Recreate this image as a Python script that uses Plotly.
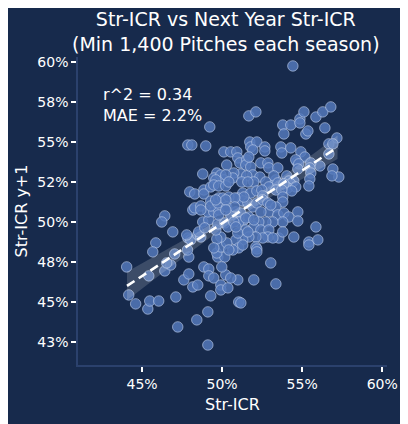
import numpy as np
import plotly.graph_objects as go

# Str-ICR in season N (x) and season N+1 (y), in percent
str_icr = [
    54.42, 49.23, 47.86, 48.11, 48.98, 51.67, 52.11, 53.79, 54.29, 53.86,
    54.86, 54.86, 55.11, 55.86, 56.29, 56.79, 56.42, 55.23, 55.36, 57.17,
    56.67, 56.92, 51.73, 51.79, 52.17, 52.67, 52.67, 51.92, 53.67, 54.29,
    53.73, 54.92, 55.17, 50.11, 50.54, 50.92, 54.67, 56.11, 56.67, 55.54,
    55.48, 56.92, 57.29, 56.86, 50.98, 51.11, 51.54, 51.48, 51.79, 50.29,
    52.42, 52.86, 52.92, 53.48, 51.92, 52.36, 51.17, 51.54, 50.73, 50.67,
    48.79, 49.67, 49.48, 49.92, 50.11, 54.04, 54.17, 54.48, 55.54, 55.48,
    51.98, 53.36, 53.17, 54.60, 54.79, 54.73, 53.23, 52.73, 52.92, 53.48,
    54.29, 54.10, 54.60, 54.35, 53.86, 55.42, 51.23, 51.61, 51.29, 51.79,
    52.17, 52.48, 52.54, 53.36, 53.73, 53.79, 53.79, 50.98, 51.29, 51.61,
    51.92, 52.17, 52.54, 52.86, 52.92, 53.36, 53.48, 53.86, 54.17, 54.73,
    54.73, 53.79, 53.17, 52.73, 55.86, 54.48, 55.42, 55.98, 50.86, 51.17,
    51.36, 51.04, 51.67, 52.29, 51.98, 51.48, 52.42, 52.92, 52.86, 53.54,
    53.17, 53.79, 52.54, 52.11, 51.67, 51.29, 50.86, 50.98, 52.11, 51.04,
    51.29, 52.17, 52.17, 53.04, 50.98, 51.98, 53.36, 51.04, 51.17, 55.42,
    50.67, 47.98, 48.29, 48.86, 48.86, 48.17, 48.29, 48.67, 46.42, 46.23,
    46.92, 45.86, 45.67, 44.04, 44.17, 44.60, 45.36, 45.48, 46.04, 45.42,
    46.42, 46.79, 46.54, 47.04, 47.92, 47.11, 47.23, 48.42, 49.11, 49.11,
    49.29, 47.61, 47.92, 48.17, 48.48, 48.86, 49.17, 49.17, 49.48, 49.92,
    49.92, 50.36, 50.23, 50.54, 49.73, 50.17, 49.98, 49.67, 49.92, 50.29,
    49.92, 49.67, 47.86, 48.04, 47.79, 48.48, 48.67, 48.54, 48.79, 49.17,
    49.61, 48.92, 49.11, 49.48, 49.79, 49.29, 49.29, 49.73, 49.79, 50.04,
    50.42, 51.36, 49.73, 50.17, 50.36, 50.54, 50.73, 50.86, 51.48, 50.23,
    49.61, 51.67, 49.29, 49.48, 49.79, 50.23, 50.29, 50.79, 50.79, 51.61,
    50.42, 49.48, 50.23, 51.98, 52.42, 53.04, 47.84, 50.42, 48.67, 49.60,
    49.79, 50.23,
]
next_str_icr = [
    59.75, 55.94, 54.81, 54.81, 54.75, 56.63, 56.88, 56.06, 56.06, 55.50,
    56.44, 56.19, 56.88, 56.56, 56.88, 57.19, 55.88, 55.50, 55.69, 55.25,
    54.88, 54.88, 55.00, 54.69, 55.00, 54.69, 54.44, 54.50, 54.69, 54.63,
    54.31, 54.38, 54.06, 54.38, 54.38, 54.38, 53.75, 53.50, 54.25, 53.69,
    53.38, 53.31, 52.81, 52.88, 54.00, 53.69, 53.88, 53.56, 53.44, 53.56,
    53.69, 53.69, 53.38, 53.38, 52.94, 52.81, 53.00, 52.88, 53.06, 52.75,
    53.00, 53.06, 52.75, 52.94, 52.63, 52.88, 52.56, 52.56, 53.06, 52.69,
    52.50, 52.63, 52.31, 53.88, 53.63, 53.31, 52.88, 52.50, 52.19, 52.44,
    52.38, 52.13, 52.19, 51.94, 52.38, 52.25, 52.50, 52.50, 51.81, 51.81,
    51.94, 52.00, 51.63, 52.00, 52.00, 51.56, 51.25, 51.50, 51.31, 51.19,
    50.94, 51.19, 51.38, 51.19, 50.63, 50.94, 50.44, 50.56, 50.31, 50.63,
    50.06, 50.00, 50.00, 50.00, 49.69, 49.06, 48.75, 48.88, 50.63, 50.56,
    50.13, 50.00, 50.31, 50.00, 49.69, 49.50, 49.50, 49.50, 49.06, 49.00,
    49.00, 49.38, 49.00, 49.06, 49.06, 48.88, 48.88, 49.31, 48.44, 48.38,
    48.56, 48.31, 48.13, 47.44, 46.38, 46.38, 46.13, 45.00, 44.94, 48.56,
    48.25, 51.88, 51.75, 52.00, 51.75, 50.75, 50.88, 51.00, 50.38, 50.00,
    49.38, 48.69, 48.13, 47.19, 45.44, 44.88, 44.56, 45.06, 45.06, 46.63,
    46.94, 47.31, 47.44, 48.00, 47.81, 45.31, 43.44, 43.88, 44.38, 42.31,
    45.38, 46.38, 46.75, 45.94, 46.06, 47.19, 47.06, 46.63, 46.50, 46.06,
    45.75, 45.88, 46.69, 46.50, 47.81, 47.81, 47.19, 48.06, 48.44, 48.69,
    49.06, 48.94, 49.00, 48.88, 49.19, 49.19, 49.06, 49.38, 50.00, 50.13,
    49.50, 49.63, 50.63, 50.63, 50.75, 51.31, 51.00, 51.19, 51.50, 51.50,
    51.56, 51.56, 49.88, 49.94, 49.69, 50.44, 50.00, 49.69, 50.25, 52.94,
    52.63, 54.06, 52.19, 52.31, 52.25, 52.25, 50.94, 51.50, 50.94, 49.38,
    48.25, 48.38, 51.38, 50.13, 50.63, 51.06, 48.25, 52.50, 50.75, 51.38,
    50.44, 50.75,
]

# fitted line as drawn in the chart (ends)
fit_x = [44.06, 57.21]
fit_y = [46.0, 54.67]

x_ticks = [45, 50, 55, 60]
x_tick_labels = ["45%", "50%", "55%", "60%"]
y_ticks = [42.5, 45, 47.5, 50, 52.5, 55, 57.5, 60]
y_tick_labels = ["43%", "45%", "48%", "50%", "52%", "55%", "58%", "60%"]

bg = "#172a4c"

x = np.array(str_icr)
y = np.array(next_str_icr)

slope = (fit_y[1] - fit_y[0]) / (fit_x[1] - fit_x[0])
xs = np.linspace(fit_x[0], fit_x[1], 100)
ys = fit_y[0] + slope * (xs - fit_x[0])

# 95% band for the mean, using the scatter around the line
resid = y - (fit_y[0] + slope * (x - fit_x[0]))
s = np.sqrt(np.sum((resid - resid.mean()) ** 2) / (len(x) - 2))
se = s * np.sqrt(1 / len(x) + (xs - x.mean()) ** 2 / np.sum((x - x.mean()) ** 2))
upper = ys + 1.96 * se
lower = ys - 1.96 * se

fig = go.Figure()

fig.add_trace(go.Scatter(
    x=x, y=y, mode="markers",
    marker=dict(size=10.5, color="rgba(84,120,186,0.85)",
                line=dict(color="rgba(185,202,232,0.8)", width=0.8)),
    showlegend=False, hoverinfo="x+y"))

fig.add_trace(go.Scatter(
    x=np.concatenate([xs, xs[::-1]]), y=np.concatenate([upper, lower[::-1]]),
    fill="toself", fillcolor="rgba(255,255,255,0.16)", line=dict(width=0),
    mode="lines", showlegend=False, hoverinfo="skip"))

fig.add_trace(go.Scatter(
    x=xs, y=ys, mode="lines",
    line=dict(color="white", width=2.6, dash="9px,5px"),
    showlegend=False, hoverinfo="skip"))

fig.add_annotation(
    x=0.075, y=0.915, xref="paper", yref="paper", xanchor="left", yanchor="top",
    text="r^2 = 0.34<br>MAE = 2.2%", align="left", showarrow=False,
    font=dict(size=16, color="white"))

# title as a paper annotation so it sits where the reference has it
fig.add_annotation(
    x=0.48, y=1.165, xref="paper", yref="paper", xanchor="center", yanchor="top",
    text="Str-ICR vs Next Year Str-ICR<br>(Min 1,400 Pitches each season)",
    showarrow=False, font=dict(size=19, color="white"))

axis_common = dict(
    showgrid=False, zeroline=False, showline=True, linecolor="#2b416d", linewidth=1.5,
    ticks="outside", ticklen=5, tickwidth=1.5, tickcolor="white",
    tickfont=dict(size=14, color="white"), automargin=False,
)

fig.update_xaxes(range=[41.0, 60.3], tickvals=x_ticks, ticktext=x_tick_labels,
                 title=dict(text="Str-ICR", font=dict(size=16, color="white"), standoff=8),
                 **axis_common)
fig.update_yaxes(range=[41.06, 60.31], tickvals=y_ticks, ticktext=y_tick_labels,
                 title=dict(text="Str-ICR y+1", font=dict(size=16, color="white"), standoff=6),
                 **axis_common)

fig.update_layout(
    width=408, height=424,
    margin=dict(l=70, r=29, t=49, b=67),
    paper_bgcolor=bg, plot_bgcolor=bg,
    font=dict(family="DejaVu Sans", color="white"),
)

fig.write_html("out.html")
